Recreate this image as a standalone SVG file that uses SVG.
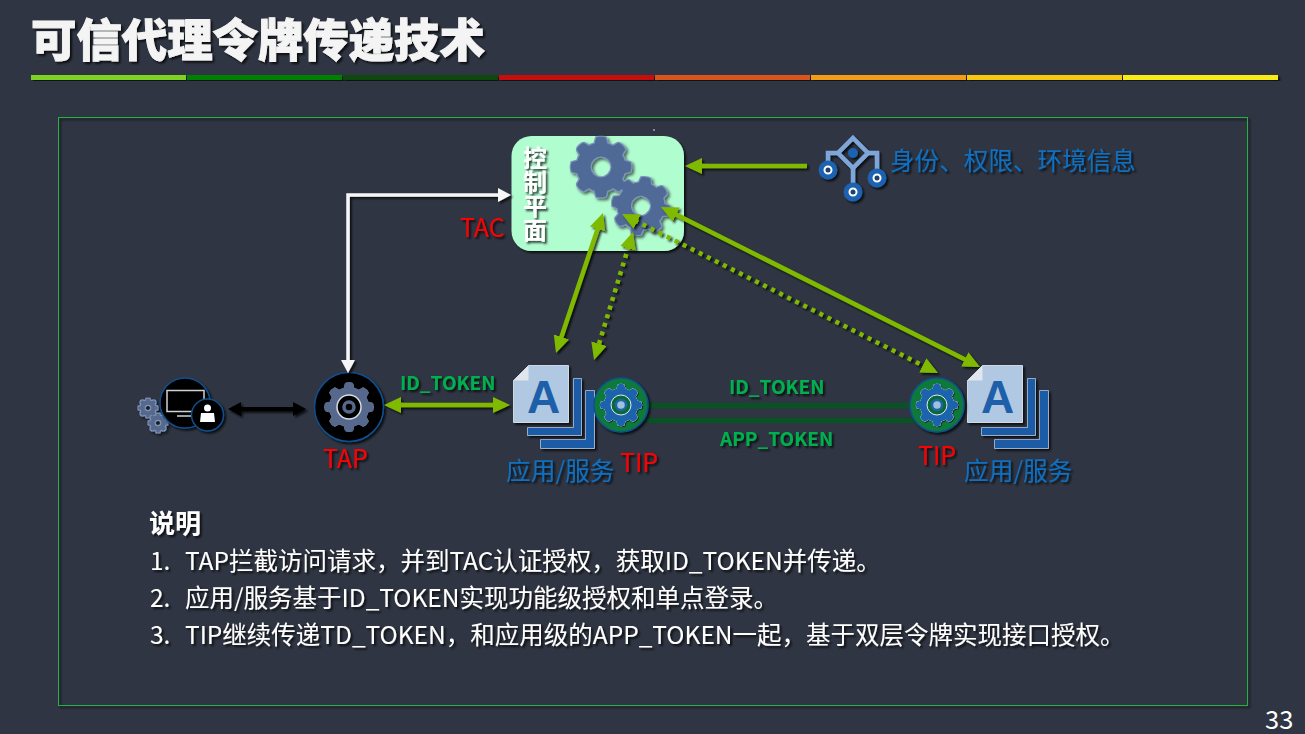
<svg xmlns="http://www.w3.org/2000/svg" width="1305" height="734" viewBox="0 0 1305 734">
<style>
text{font-family:"Noto Sans CJK SC","Noto Sans",sans-serif}
.sh{filter:url(#shadow)}
.red{fill:#ff0000;font-size:25px}
.blue{fill:#0f6fc0;font-size:24.700px}
.tok{fill:#00b050;font-size:19px;font-weight:700}
.body{fill:#fff;font-size:24.500px}
.g{fill:none;stroke:#7fba00;stroke-width:4.500}
.dot{stroke-dasharray:4 5}
.docb{fill:#1a5ca6;stroke:#c8d4e4;stroke-width:.7}
.ring{fill:#fff;stroke:#1a62b0;stroke-width:5}
</style>
<defs>
<filter id="shadow" x="-20%" y="-20%" width="140%" height="140%"><feDropShadow dx="2" dy="2" stdDeviation="1.200" flood-color="#000" flood-opacity=".75"/></filter>
<filter id="edge" x="-20%" y="-20%" width="150%" height="150%">
<feMorphology in="SourceAlpha" operator="dilate" radius=".6" result="d"/>
<feFlood flood-color="#dfe8f2"/><feComposite in2="d" operator="in" result="e"/>
<feDropShadow in="e" dx="2" dy="2" stdDeviation="1.200" flood-color="#000" flood-opacity=".8" result="s"/>
<feMerge><feMergeNode in="s"/><feMergeNode in="SourceGraphic"/></feMerge>
</filter>
<filter id="edge2" x="-20%" y="-20%" width="150%" height="150%">
<feMorphology in="SourceAlpha" operator="dilate" radius=".5" result="d"/>
<feFlood flood-color="#7c93ba"/><feComposite in2="d" operator="in" result="e"/>
<feDropShadow in="e" dx="2" dy="2" stdDeviation="1.500" flood-color="#000" flood-opacity=".6" result="s"/>
<feMerge><feMergeNode in="s"/><feMergeNode in="SourceGraphic"/></feMerge>
</filter>
<marker id="ag" markerUnits="userSpaceOnUse" markerWidth="20" markerHeight="18" refX="12" refY="8" orient="auto-start-reverse"><path d="M0 0L17 8L0 16Z" fill="#7fba00"/></marker>
<marker id="aw" markerUnits="userSpaceOnUse" markerWidth="16" markerHeight="16" refX="9" refY="7" orient="auto-start-reverse"><path d="M0 0L13 7L0 14Z" fill="#f6f6f6"/></marker>
<marker id="ak" markerUnits="userSpaceOnUse" markerWidth="16" markerHeight="16" refX="9" refY="7" orient="auto-start-reverse"><path d="M0 0L13 7L0 14Z" fill="#000"/></marker>
<path id="tooth" d="M-11 -38L-8 -49Q0 -52 8 -49L11 -38Z"/>
<g id="gear">
<circle r="29" fill="none" stroke="currentColor" stroke-width="23"/>
<g fill="currentColor">
<use href="#tooth"/><use href="#tooth" transform="rotate(45)"/><use href="#tooth" transform="rotate(90)"/><use href="#tooth" transform="rotate(135)"/>
<use href="#tooth" transform="rotate(180)"/><use href="#tooth" transform="rotate(225)"/><use href="#tooth" transform="rotate(270)"/><use href="#tooth" transform="rotate(315)"/>
</g>
</g>
<g id="docs">
<path class="docb" d="M72 25H81V83H27V74H72Z" filter="url(#shadow)"/>
<path class="docb" d="M60 13H68V70H14V62H60Z" filter="url(#shadow)"/>
<path d="M15 0H55V57H0V15Z" fill="#b0c8e2" stroke="#e4ecf5" stroke-width=".8" filter="url(#shadow)"/>
<path d="M0 15L15 0V15Z" fill="#dfe6ee"/>
<text x="30" y="47" text-anchor="middle" style="font-family:'Liberation Sans',sans-serif;font-size:46px;font-weight:700" fill="#1d5fa8">A</text>
</g>
</defs>

<rect width="1305" height="734" fill="#2f3542"/>
<rect x="58.500" y="117.500" width="1189" height="588" fill="none" stroke="#25b040" stroke-width="1" filter="url(#shadow)"/>
<circle cx="654" cy="130" r="1" fill="#8fa6cc"/>

<g id="title">
<text x="31" y="57" class="sh" style="font-size:45.400px;font-weight:900;stroke:#f4f4f4;stroke-width:.9" fill="#f4f4f4">可信代理令牌传递技术</text>
<g class="sh">
<rect x="31" y="75" width="155" height="5" fill="#7ed321"/>
<rect x="187" y="75" width="155" height="5" fill="#008000"/>
<rect x="343" y="75" width="155" height="5" fill="#0b480b"/>
<rect x="499" y="75" width="155" height="5" fill="#c80d0d"/>
<rect x="655" y="75" width="155" height="5" fill="#d9541e"/>
<rect x="811" y="75" width="155" height="5" fill="#f39c12"/>
<rect x="967" y="75" width="155" height="5" fill="#f7c80f"/>
<rect x="1123" y="75" width="155" height="5" fill="#f7ec13"/>
</g>
</g>

<g id="control-plane">
<rect x="511.500" y="136" width="172.500" height="115" rx="20" fill="#b0fdd0" class="sh"/>
<g filter="url(#edge2)" color="#4f6a96">
<use href="#gear" transform="translate(601 167) scale(.6)"/>
<use href="#gear" transform="translate(641 206) scale(.58) rotate(10)"/>
</g>
<text x="535" y="146" class="sh" fill="#fff" style="font-size:24px;font-weight:700;writing-mode:vertical-rl">控制平面</text>
<text x="460" y="237" class="red sh">TAC</text>
</g>

<g id="identity-source">
<g class="sh">
<path d="M853 138L868 153L853 168L838 153Z" fill="none" stroke="#7ea6d8" stroke-width="4.500"/>
<path d="M838 153H828V170M868 153H877V178M853 168V192" stroke="#7ea6d8" stroke-width="4.500" fill="none"/>
<circle cx="828" cy="170" r="7" class="ring"/>
<circle cx="877" cy="178" r="7" class="ring"/>
<circle cx="853" cy="192" r="7" class="ring"/>
<circle cx="828" cy="170" r="2.500" fill="#1a3f70"/>
<circle cx="877" cy="178" r="2.500" fill="#1a3f70"/>
<circle cx="853" cy="192" r="2.500" fill="#1a3f70"/>
<circle cx="853" cy="153" r="5" fill="#1a62b0"/>
</g>
<text x="890" y="170" class="blue sh" style="font-size:24.600px">身份、权限、环境信息</text>
</g>

<g id="client">
<g filter="url(#edge2)" color="#56698c">
<use href="#gear" transform="translate(148 408) scale(.19)"/>
<use href="#gear" transform="translate(158 423) scale(.19)"/>
</g>
<circle cx="185" cy="403" r="25" fill="#000" stroke="#10508f" stroke-width="1.500" class="sh"/>
<rect x="167" y="390.500" width="37" height="21" fill="none" stroke="#cfd3d8" stroke-width="1.500"/>
<path d="M177 416H193" stroke="#cfd3d8" stroke-width="1.500"/>
<circle cx="207.500" cy="415" r="16" fill="#000" stroke="#10508f" stroke-width="1.500" class="sh"/>
<circle cx="207.500" cy="408" r="3.500" fill="#fff"/>
<path d="M201 413H214L215 422H200Z" fill="#fff"/>
</g>

<g id="tap">
<circle cx="349" cy="407" r="34.500" fill="#000" stroke="#10508f" stroke-width="1.500" class="sh"/>
<use href="#gear" transform="translate(349 407) scale(.49)" color="#56698c" filter="url(#edge2)"/>
<circle cx="349" cy="407" r="12" fill="#000" stroke="#d8dde4" stroke-width="1.500"/>
<circle cx="349" cy="407" r="5" fill="none" stroke="#56698c" stroke-width="3.500"/>
<text x="323" y="468" class="red sh">TAP</text>
</g>

<g id="connectors">
<g class="sh">
<path d="M348 369V195H507" fill="none" stroke="#f6f6f6" stroke-width="3.500" marker-start="url(#aw)" marker-end="url(#aw)"/>
<path d="M232 409H302" fill="none" stroke="#000" stroke-width="4" marker-start="url(#ak)" marker-end="url(#ak)"/>
<path class="g" d="M389 405H505" marker-start="url(#ag)" marker-end="url(#ag)"/>
<path class="g" d="M807 166H690" marker-end="url(#ag)"/>
<path class="g" d="M601.400 217.700L557.600 348.300" marker-start="url(#ag)" marker-end="url(#ag)"/>
<path class="g dot" d="M631.500 236.800L595.500 355.200" marker-start="url(#ag)" marker-end="url(#ag)"/>
<path class="g dot" d="M626.500 216.200L933.500 370.800" marker-start="url(#ag)" marker-end="url(#ag)"/>
<path class="g" d="M665.500 209.200L975.500 364.800" marker-start="url(#ag)" marker-end="url(#ag)"/>
</g>
<path d="M645 405.500H915M645 420.500H915" fill="none" stroke="#0a5226" stroke-width="5.500"/>
<text x="400" y="390" class="tok sh">ID_TOKEN</text>
<text x="729" y="394" class="tok sh">ID_TOKEN</text>
<text x="720" y="446" class="tok sh">APP_TOKEN</text>
</g>

<g id="app-left">
<use href="#docs" transform="translate(513.500 365.500)"/>
<text x="506" y="480" class="blue sh">应用/服务</text>
</g>
<g id="tip-left">
<circle cx="621" cy="405" r="27" fill="#0b7a3a" stroke="#10508f" stroke-width="1.500" class="sh"/>
<use href="#gear" transform="translate(621 405) scale(.42)" color="#1e63ad" filter="url(#edge)"/>
<circle cx="621" cy="405" r="10" fill="#0b6a34" stroke="#dfe8f2" stroke-width="1"/>
<circle cx="621" cy="405" r="5" fill="#9ec3d8" stroke="#1e63ad" stroke-width="2.500"/>
<text x="620" y="472" class="red sh">TIP</text>
</g>
<g id="app-right">
<use href="#docs" transform="translate(967.500 365.500)"/>
<text x="964" y="480" class="blue sh">应用/服务</text>
</g>
<g id="tip-right">
<circle cx="937" cy="405" r="27" fill="#0b7a3a" stroke="#10508f" stroke-width="1.500" class="sh"/>
<use href="#gear" transform="translate(937 405) scale(.42)" color="#1e63ad" filter="url(#edge)"/>
<circle cx="937" cy="405" r="10" fill="#0b6a34" stroke="#dfe8f2" stroke-width="1"/>
<circle cx="937" cy="405" r="5" fill="#9ec3d8" stroke="#1e63ad" stroke-width="2.500"/>
<text x="918" y="465" class="red sh">TIP</text>
</g>

<g id="notes" class="sh">
<text x="149" y="533" class="body" style="font-weight:700;font-size:26px">说明</text>
<text x="150" y="570" class="body">1.</text><text x="185" y="570" class="body">TAP拦截访问请求，并到TAC认证授权，获取ID_TOKEN并传递。</text>
<text x="150" y="607" class="body">2.</text><text x="185" y="607" class="body">应用/服务基于ID_TOKEN实现功能级授权和单点登录。</text>
<text x="150" y="644" class="body">3.</text><text x="185" y="644" class="body">TIP继续传递TD_TOKEN，和应用级的APP_TOKEN一起，基于双层令牌实现接口授权。</text>
</g>
<text x="1265" y="729" fill="#fff" style="font-size:25.500px">33</text>
</svg>
